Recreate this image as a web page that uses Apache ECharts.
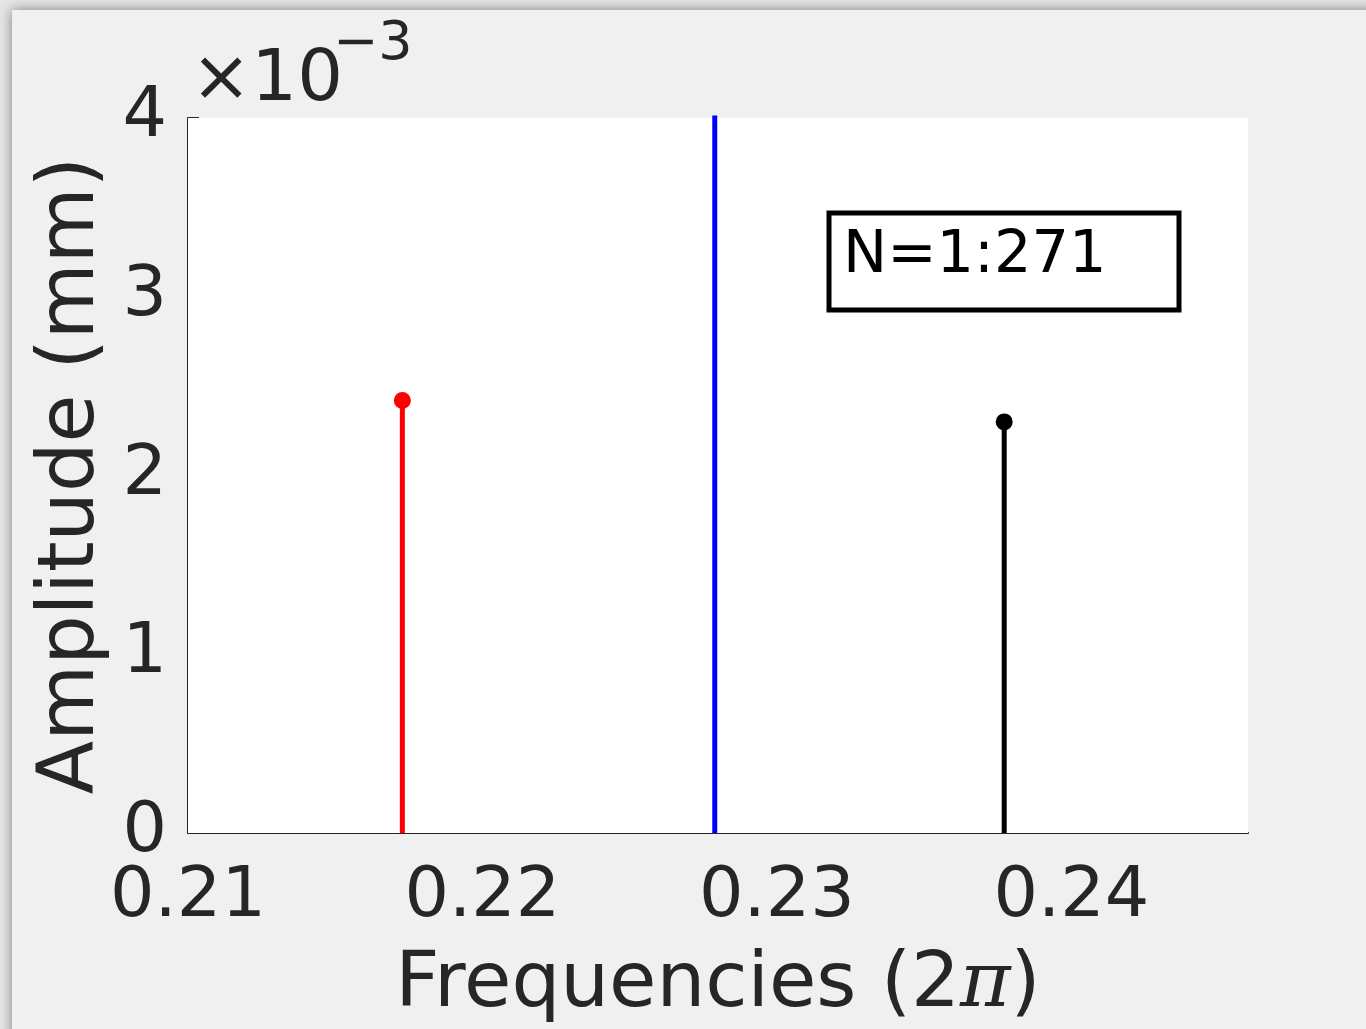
<!DOCTYPE html>
<html>
<head>
<meta charset="utf-8">
<script src="https://cdn.jsdelivr.net/npm/echarts@6/dist/echarts.min.js"></script>
<style>html,body{margin:0;padding:0;background:#e6e6e6;}#c{width:1366px;height:1029px;}</style>
</head>
<body>
<div id="c"></div>
<script>
// Data
const stemNames = ['red', 'blue', 'black'];
const frequencies = [0.21728, 0.22789, 0.23772];
const amplitudes = [0.00242, 0.0045, 0.00230];
const xTicks = [0.21, 0.22, 0.23, 0.24];
const yTicks = [0, 1, 2, 3, 4]; // ×10^-3
const annotation = 'N=1:271';

const stemColors = ['#ff0000', '#0000ff', '#000000'];
const showMarker = [true, false, true];
const FONT = 'DejaVu Sans';

const chart = echarts.init(document.getElementById('c'));
const series = frequencies.map((f, i) => ({
  type: 'line',
  name: stemNames[i],
  clip: true,
  z: 5,
  lineStyle: { color: stemColors[i], width: 5 },
  itemStyle: { color: stemColors[i] },
  symbol: 'circle',
  symbolSize: 17,
  showSymbol: true,
  animation: false,
  data: [
    { value: [f, 0], symbol: 'none' },
    { value: [f, amplitudes[i]], symbol: showMarker[i] ? 'circle' : 'none' }
  ]
}));

chart.setOption({
  backgroundColor: '#e6e6e6',
  animation: false,
  grid: {
    left: 188, right: 118, top: 118, bottom: 194,
    show: true, backgroundColor: '#ffffff', borderWidth: 0, z: 1
  },
  xAxis: {
    type: 'value',
    min: xTicks[0], max: 0.246, interval: 0.01,
    axisLine: { show: true, onZero: false, lineStyle: { color: '#262626', width: 2 } },
    axisTick: { show: true, inside: true, length: 11, lineStyle: { color: '#262626', width: 2 } },
    splitLine: { show: false },
    axisLabel: {
      showMaxLabel: false,
      margin: 30,
      color: '#262626', fontFamily: FONT, fontSize: 70,
      formatter: v => v.toFixed(2)
    },
    name: 'Frequencies (2{i|π})',
    nameLocation: 'middle',
    nameGap: 114,
    nameTextStyle: {
      color: '#262626', fontFamily: FONT, fontSize: 77,
      rich: { i: { fontStyle: 'italic', fontFamily: 'DejaVu Serif', fontSize: 77, color: '#262626' } }
    }
  },
  yAxis: {
    type: 'value',
    min: 0, max: 0.004, interval: 0.001,
    axisLine: { show: true, lineStyle: { color: '#262626', width: 2 } },
    axisTick: { show: true, inside: true, length: 11, lineStyle: { color: '#262626', width: 2 } },
    splitLine: { show: false },
    axisLabel: {
      margin: 21,
      color: '#262626', fontFamily: FONT, fontSize: 70,
      formatter: v => String(Math.round(v * 1000))
    },
    name: 'Amplitude (mm)',
    nameLocation: 'middle',
    nameGap: 72,
    nameTextStyle: { color: '#262626', fontFamily: FONT, fontSize: 78 }
  },
  graphic: [
    {
      type: 'rect', z: -10,
      shape: { x: 12, y: 10, width: 1400, height: 1100 },
      style: { fill: '#f0f0f0', shadowBlur: 12, shadowColor: 'rgba(0,0,0,0.45)' }
    },
    {
      type: 'text', left: 191, top: 45, z: 10,
      style: { text: '×10', font: '72px "DejaVu Sans"', fill: '#262626' }
    },
    {
      type: 'text', left: 333, top: 18, z: 10,
      style: { text: '−3', font: '54px "DejaVu Sans"', fill: '#262626' }
    },
    {
      type: 'rect', z: 10,
      shape: { x: 829, y: 213, width: 350, height: 97 },
      style: { fill: '#ffffff', stroke: '#000000', lineWidth: 5 }
    },
    {
      type: 'text', left: 843, top: 227, z: 11,
      style: { text: annotation, font: '59px "DejaVu Sans"', fill: '#000000' }
    }
  ],
  series: series
});
</script>
</body>
</html>
